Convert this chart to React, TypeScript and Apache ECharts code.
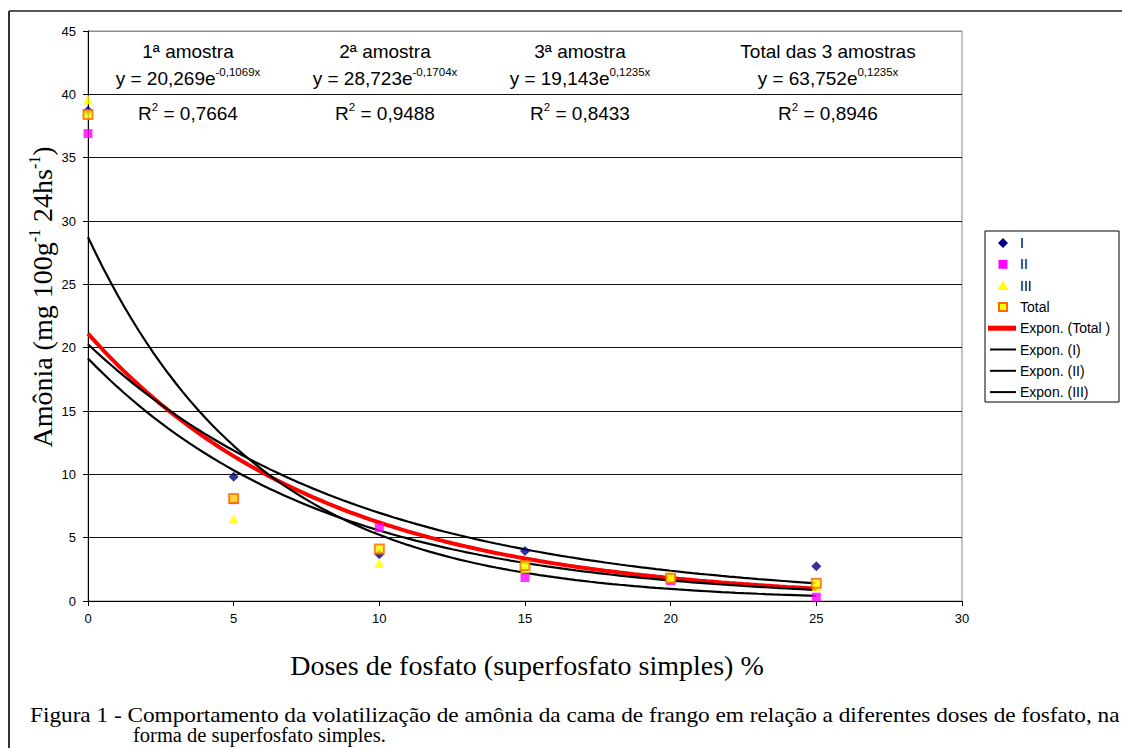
import React, { useEffect, useRef } from "react";
import * as echarts from "echarts";

// ---- data ----
const doses = [0, 5, 10, 15, 20, 25];
const amostraI = [38.7, 9.8, 3.7, 3.95, 1.7, 2.75];
const amostraII = [36.9, 8.0, 5.8, 1.85, 1.6, 0.3];
const amostraIII = [39.6, 6.5, 3.0, 2.6, 2.0, 1.15];
const totalVals = [38.4, 8.1, 4.1, 2.8, 1.8, 1.4];

// printed trend-line coefficients (y = a·e^(b·x)) for I, II, III
const coefA = [20.269, 28.723, 19.143];
const coefB = [-0.1069, -0.1704, -0.1235];

const headerTitles = ["1ª amostra", "2ª amostra", "3ª amostra", "Total das 3 amostras"];
const eqCoefText = ["20,269", "28,723", "19,143", "63,752"];
const eqExpText = ["-0,1069x", "-0,1704x", "0,1235x", "0,1235x"];
const r2Text = ["0,7664", "0,9488", "0,8433", "0,8946"];

const legendLabels = ["I", "II", "III", "Total", "Expon. (Total )", "Expon. (I)", "Expon. (II)", "Expon. (III)"];

const yAxisTitle = ["Amônia (mg 100g", "-1", " 24hs", "-1", ")"];
const xAxisTitle = "Doses de fosfato (superfosfato simples) %";
const captionLine1 =
  "Figura 1 - Comportamento da volatilização de amônia da cama de frango em relação a diferentes doses de fosfato, na";
const captionLine2 = "forma de superfosfato simples.";

// ---- helpers ----
function expFit(xs: number[], ys: number[]) {
  const n = xs.length;
  const ly = ys.map((v) => Math.log(v));
  const mx = xs.reduce((a, b) => a + b, 0) / n;
  const my = ly.reduce((a, b) => a + b, 0) / n;
  let num = 0;
  let den = 0;
  for (let i = 0; i < n; i++) {
    num += (xs[i] - mx) * (ly[i] - my);
    den += (xs[i] - mx) * (xs[i] - mx);
  }
  const b = num / den;
  return { a: Math.exp(my - b * mx), b };
}

function curve(a: number, b: number) {
  const pts: number[][] = [];
  const x0 = doses[0];
  const x1 = doses[doses.length - 1];
  const steps = 100;
  for (let i = 0; i <= steps; i++) {
    const x = x0 + ((x1 - x0) * i) / steps;
    pts.push([x, a * Math.exp(b * x)]);
  }
  return pts;
}

const pairs = (ys: number[]) => doses.map((d, i) => [d, ys[i]]);

const SANS = "'Liberation Sans', Arial, sans-serif";
const SERIF = "'Liberation Serif', 'Times New Roman', serif";

export default function App() {
  const ref = useRef<HTMLDivElement>(null);

  useEffect(() => {
    document.body.style.margin = "0";
    const chart = echarts.init(ref.current!, null, { renderer: "svg" });

    const totFit = expFit(doses, totalVals);

    const headerX = [188, 385, 580, 828];
    const graphics: any[] = [];

    // outer frame (top + left)
    graphics.push({
      type: "line",
      shape: { x1: 9, y1: 11, x2: 1122, y2: 11 },
      style: { stroke: "#555", lineWidth: 2 },
    });
    graphics.push({
      type: "line",
      shape: { x1: 9, y1: 11, x2: 9, y2: 748 },
      style: { stroke: "#333", lineWidth: 2 },
    });

    const richN = { fontFamily: SANS, fontSize: 19, fill: "#000", lineHeight: 22, verticalAlign: "bottom" };
    const richS = { fontFamily: SANS, fontSize: 11.5, fill: "#000", lineHeight: 11, verticalAlign: "top" };

    headerTitles.forEach((t, i) => {
      graphics.push({
        type: "text",
        x: headerX[i],
        y: 51,
        style: { text: t, fontFamily: SANS, fontSize: 19, fill: "#000", align: "center", verticalAlign: "middle" },
      });
      graphics.push({
        type: "text",
        x: headerX[i],
        y: 77,
        style: {
          text: `{n|y = ${eqCoefText[i]}e}{s|${eqExpText[i]}}`,
          align: "center",
          verticalAlign: "middle",
          rich: { n: richN, s: richS },
        },
      });
      graphics.push({
        type: "text",
        x: headerX[i],
        y: 112,
        style: {
          text: `{n|R}{s|2}{n| = ${r2Text[i]}}`,
          align: "center",
          verticalAlign: "middle",
          rich: { n: richN, s: richS },
        },
      });
    });

    // legend box
    const lgX = 985;
    const lgY = 231;
    const rowY0 = 243;
    const rowGap = 21.3;
    const legendChildren: any[] = [
      {
        type: "rect",
        shape: { x: lgX, y: lgY, width: 134, height: 171 },
        style: { fill: "#fff", stroke: "#000", lineWidth: 1 },
      },
    ];
    const mx = 1003;
    const ry = (i: number) => rowY0 + rowGap * i;
    legendChildren.push({
      type: "polygon",
      shape: { points: [[mx, ry(0) - 5], [mx + 5, ry(0)], [mx, ry(0) + 5], [mx - 5, ry(0)]] },
      style: { fill: "#000080" },
    });
    legendChildren.push({
      type: "rect",
      shape: { x: mx - 4.5, y: ry(1) - 4.5, width: 9, height: 9 },
      style: { fill: "#ff00ff" },
    });
    legendChildren.push({
      type: "polygon",
      shape: { points: [[mx, ry(2) - 5], [mx + 5.5, ry(2) + 4.5], [mx - 5.5, ry(2) + 4.5]] },
      style: { fill: "#ffff00" },
    });
    legendChildren.push({
      type: "rect",
      shape: { x: mx - 4, y: ry(3) - 4, width: 8, height: 8 },
      style: { fill: "#ffff00", stroke: "#ff6600", lineWidth: 2 },
    });
    legendChildren.push({
      type: "line",
      shape: { x1: 988, y1: ry(4), x2: 1016, y2: ry(4) },
      style: { stroke: "#ff0000", lineWidth: 5 },
    });
    [5, 6, 7].forEach((k) => {
      legendChildren.push({
        type: "line",
        shape: { x1: 990, y1: ry(k), x2: 1016, y2: ry(k) },
        style: { stroke: "#000", lineWidth: 2 },
      });
    });
    legendLabels.forEach((t, i) => {
      legendChildren.push({
        type: "text",
        x: 1020,
        y: ry(i),
        style: { text: t, fontFamily: SANS, fontSize: 14, fill: "#000", align: "left", verticalAlign: "middle" },
      });
    });
    graphics.push({ type: "group", children: legendChildren, z: 10 });

    // y axis title (rotated)
    graphics.push({
      type: "text",
      x: 41,
      y: 297,
      rotation: Math.PI / 2,
      style: {
        text: `{n|${yAxisTitle[0]}}{s|${yAxisTitle[1]}}{n|${yAxisTitle[2]}}{s|${yAxisTitle[3]}}{n|${yAxisTitle[4]}}`,
        align: "center",
        verticalAlign: "middle",
        rich: {
          n: { fontFamily: SERIF, fontSize: 28, fill: "#000", lineHeight: 30, verticalAlign: "bottom" },
          s: { fontFamily: SERIF, fontSize: 16, fill: "#000", lineHeight: 16, verticalAlign: "top" },
        },
      },
    });
    // x axis title
    graphics.push({
      type: "text",
      x: 527,
      y: 665,
      style: { text: xAxisTitle, fontFamily: SERIF, fontSize: 28, fill: "#000", align: "center", verticalAlign: "middle" },
    });

    // caption: first line stretched to the justified width x=30..1121
    const capFont = 20.5;
    const canvas = document.createElement("canvas");
    const ctx = canvas.getContext("2d")!;
    ctx.font = `${capFont}px 'Liberation Serif'`;
    const natural = ctx.measureText(captionLine1).width || 1000;
    const capLeft = 30;
    const capRight = 1121;
    const stretch = (capRight - capLeft) / natural;
    graphics.push({
      type: "text",
      x: capLeft,
      y: 715,
      scaleX: stretch,
      style: { text: captionLine1, fontFamily: SERIF, fontSize: capFont, fill: "#000", align: "left", verticalAlign: "middle" },
    });
    graphics.push({
      type: "text",
      x: 133,
      y: 735,
      style: { text: captionLine2, fontFamily: SERIF, fontSize: capFont, fill: "#000", align: "left", verticalAlign: "middle" },
    });

    const splitColors = ["#111", "#111", "#111", "#111", "#111", "#111", "#111", "#111", "#111", "#8c8c8c"];

    const option: any = {
      animation: false,
      backgroundColor: "#fff",
      grid: {
        left: 88,
        top: 31,
        width: 874,
        height: 570,
        show: true,
        borderColor: "#8c8c8c",
        borderWidth: 1,
        backgroundColor: "transparent",
      },
      xAxis: {
        type: "value",
        min: 0,
        max: 30,
        interval: 5,
        axisLine: { show: true, onZero: false, lineStyle: { color: "#000", width: 1 } },
        axisTick: { show: true, length: 5, lineStyle: { color: "#000" } },
        axisLabel: { color: "#000", fontFamily: SANS, fontSize: 13, margin: 11 },
        splitLine: { show: false },
      },
      yAxis: {
        type: "value",
        min: 0,
        max: 45,
        interval: 5,
        axisLine: { show: true, lineStyle: { color: "#000", width: 1 } },
        axisTick: { show: true, length: 5, lineStyle: { color: "#000" } },
        axisLabel: { color: "#000", fontFamily: SANS, fontSize: 13, margin: 12 },
        splitLine: { show: true, lineStyle: { color: splitColors, width: 1 } },
      },
      series: [
        {
          name: "Expon. (Total )",
          type: "line",
          data: curve(totFit.a, totFit.b),
          showSymbol: false,
          symbol: "none",
          lineStyle: { color: "#ff0000", width: 4 },
          z: 2,
        },
        ...[0, 1, 2].map((k) => ({
          name: ["Expon. (I)", "Expon. (II)", "Expon. (III)"][k],
          type: "line",
          data: curve(coefA[k], coefB[k]),
          showSymbol: false,
          symbol: "none",
          lineStyle: { color: "#000", width: 2.2 },
          z: 3,
        })),
        {
          name: "I",
          type: "scatter",
          data: pairs(amostraI),
          symbol: "diamond",
          symbolSize: 10,
          itemStyle: { color: "#000080" },
          z: 5,
        },
        {
          name: "II",
          type: "scatter",
          data: pairs(amostraII),
          symbol: "rect",
          symbolSize: 9,
          itemStyle: { color: "#ff00ff" },
          z: 5,
        },
        {
          name: "III",
          type: "scatter",
          data: pairs(amostraIII),
          symbol: "triangle",
          symbolSize: 10,
          itemStyle: { color: "#ffff00" },
          z: 5,
        },
        {
          name: "Total",
          type: "scatter",
          data: pairs(totalVals),
          symbol: "rect",
          symbolSize: 9,
          itemStyle: { color: "#ffff00", borderColor: "#ff6600", borderWidth: 2 },
          z: 6,
        },
      ],
      graphic: graphics,
    };

    chart.setOption(option);
    return () => chart.dispose();
  }, []);

  return <div ref={ref} style={{ width: 1122, height: 748, background: "#fff" }} />;
}
